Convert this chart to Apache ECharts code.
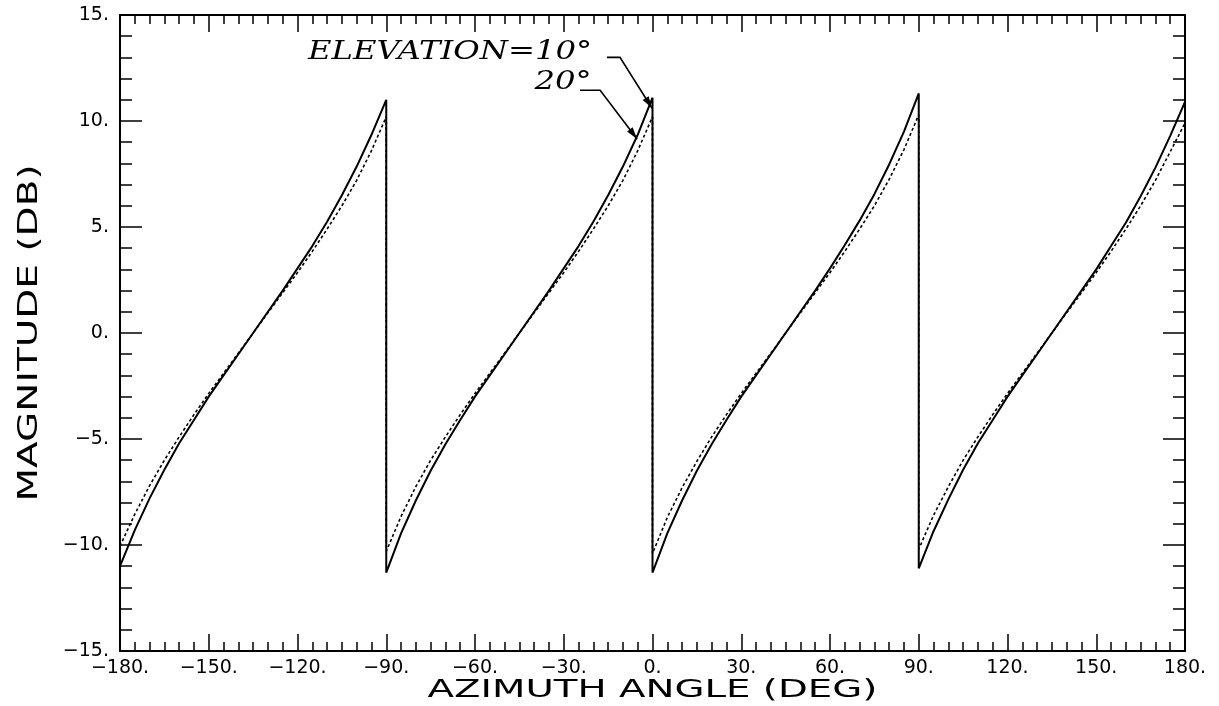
<!DOCTYPE html>
<html>
<head>
<meta charset="utf-8">
<script src="https://cdn.jsdelivr.net/npm/echarts@6/dist/echarts.min.js"></script>
<style>
  html, body { margin: 0; padding: 0; background: #fff; }
  #chart { width: 1219px; height: 706px; }
</style>
</head>
<body>
<div id="chart"></div>
<script>
// Azimuth sweep is drawn in four 90-degree segments, sampled every 5 degrees.
const segmentStart = [-180, -90, 0, 90];
const segmentOffsets = [0, 5, 10, 15, 20, 25, 30, 35, 40, 45, 50, 55, 60, 65, 70, 75, 80, 85, 90];

// Magnitude (dB), elevation = 10 deg (solid curve)
const elev10Seg1 = [-11.0, -9.3, -7.8, -6.45, -5.2, -4.1, -3.0, -2.0, -1.0, 0.0, 1.0, 2.0, 3.05, 4.1, 5.25, 6.5, 7.85, 9.35, 11.0];
const elev10Seg2 = [-11.3, -9.45, -7.9, -6.5, -5.25, -4.1, -3.0, -2.0, -1.0, 0.0, 1.0, 2.0, 3.05, 4.1, 5.25, 6.5, 7.85, 9.35, 11.1];
const elev10Seg3 = [-11.3, -9.45, -7.9, -6.5, -5.25, -4.1, -3.0, -2.0, -1.0, 0.0, 1.0, 2.0, 3.05, 4.15, 5.3, 6.55, 7.95, 9.5, 11.3];
const elev10Seg4 = [-11.1, -9.35, -7.85, -6.45, -5.2, -4.1, -3.0, -2.0, -1.0, 0.0, 1.0, 2.0, 3.0, 4.1, 5.2, 6.45, 7.8, 9.3, 10.9];
const elev10AtWrap = -11.0;

// Magnitude (dB), elevation = 20 deg (dotted curve)
const elev20Seg1 = [-10.05, -8.55, -7.2, -6.0, -4.9, -3.85, -2.85, -1.9, -0.95, 0.0, 0.95, 1.9, 2.85, 3.85, 4.9, 6.0, 7.2, 8.6, 10.2];
const elev20Seg2 = [-10.3, -8.65, -7.25, -6.0, -4.9, -3.85, -2.85, -1.9, -0.95, 0.0, 0.95, 1.9, 2.85, 3.85, 4.9, 6.0, 7.2, 8.6, 10.2];
const elev20Seg3 = [-10.4, -8.7, -7.3, -6.05, -4.9, -3.85, -2.85, -1.9, -0.95, 0.0, 0.95, 1.9, 2.85, 3.85, 4.9, 6.0, 7.25, 8.65, 10.3];
const elev20Seg4 = [-10.2, -8.6, -7.25, -6.0, -4.9, -3.85, -2.85, -1.9, -0.95, 0.0, 0.95, 1.9, 2.85, 3.85, 4.9, 6.0, 7.2, 8.55, 9.9];
const elev20AtWrap = -10.05;

// Leader lines for the curve labels: [azimuth, dB] for start, bend and arrow tip
const leader10 = [[-15.4, 13.0], [-11.0, 13.0], [-0.15, 10.6]];
const leader20 = [[-24.5, 11.45], [-17.7, 11.45], [-5.2, 9.15]];

function buildCurve(segments, wrapValue) {
  const pts = [];
  segments.forEach((vals, s) => {
    vals.forEach((v, i) => pts.push([segmentStart[s] + segmentOffsets[i], v]));
  });
  pts.push([180, wrapValue]);
  return pts;
}

const elev10Data = buildCurve([elev10Seg1, elev10Seg2, elev10Seg3, elev10Seg4], elev10AtWrap);
const elev20Data = buildCurve([elev20Seg1, elev20Seg2, elev20Seg3, elev20Seg4], elev20AtWrap);

const MINUS = '\u2212';
const fmt = v => (v < 0 ? MINUS : '') + Math.abs(v) + '.';
const labelFont = 'DejaVu Sans, Liberation Sans, sans-serif';

function xAxisCfg(pos, showLabels) {
  return {
    type: 'value', position: pos, min: -180, max: 180, interval: 30,
    axisLine: { show: true, onZero: false, lineStyle: { color: '#000', width: 2 } },
    axisTick: { show: true, inside: true, length: 17, lineStyle: { color: '#000', width: 1.5 } },
    minorTick: { show: true, splitNumber: 6, length: 9, lineStyle: { color: '#000', width: 1.5 } },
    splitLine: { show: false }, minorSplitLine: { show: false },
    axisLabel: { show: showLabels, formatter: fmt, color: '#000', fontSize: 19, fontFamily: labelFont, margin: 8, showMinLabel: true, showMaxLabel: true }
  };
}
function yAxisCfg(pos, showLabels) {
  return {
    type: 'value', position: pos, min: -15, max: 15, interval: 5,
    axisLine: { show: true, onZero: false, lineStyle: { color: '#000', width: 2 } },
    axisTick: { show: true, inside: true, length: 22, lineStyle: { color: '#000', width: 1.5 } },
    minorTick: { show: true, splitNumber: 5, length: 12, lineStyle: { color: '#000', width: 1.5 } },
    splitLine: { show: false }, minorSplitLine: { show: false },
    axisLabel: { show: showLabels, formatter: fmt, color: '#000', fontSize: 19, fontFamily: labelFont, margin: 11, showMinLabel: true, showMaxLabel: true }
  };
}

const chart = echarts.init(document.getElementById('chart'), null, { renderer: 'canvas' });
chart.setOption({
  animation: false,
  backgroundColor: '#fff',
  grid: { left: 120, right: 34, top: 15, bottom: 55 },
  xAxis: [xAxisCfg('bottom', true), xAxisCfg('top', false)],
  yAxis: [yAxisCfg('left', true), yAxisCfg('right', false)],
  series: [
    {
      name: 'ELEVATION=20°', type: 'line', data: elev20Data, showSymbol: false,
      lineStyle: { color: '#000', width: 1.6, type: [3, 2.5] }, z: 2
    },
    {
      name: 'ELEVATION=10°', type: 'line', data: elev10Data, showSymbol: false,
      lineStyle: { color: '#000', width: 2 }, z: 3
    }
  ]
});

// Axis titles and curve annotations
const px = p => chart.convertToPixel({ gridIndex: 0 }, p);

function leaderGraphics(pts) {
  const p = pts.map(px);
  const tip = p[p.length - 1], prev = p[p.length - 2];
  const dx = tip[0] - prev[0], dy = tip[1] - prev[1];
  const len = Math.hypot(dx, dy), ux = dx / len, uy = dy / len;
  const hl = 12, hw = 3.5;
  const bx = tip[0] - ux * hl, by = tip[1] - uy * hl;
  return [
    { type: 'polyline', shape: { points: p }, style: { stroke: '#000', lineWidth: 1.6, fill: null }, z: 10 },
    { type: 'polygon', shape: { points: [tip, [bx - uy * hw, by + ux * hw], [bx + uy * hw, by - ux * hw]] }, style: { fill: '#000' }, z: 10 }
  ];
}

const gridRect = { left: 120, right: 1219 - 34, top: 15, bottom: 706 - 55 };
// label anchors: right end, vertical middle of the capitals
const t10 = px([-20.4, 13.25]);
const t20 = px([-20.6, 11.85]);
const annoFont = 'italic 26px DejaVu Serif, Liberation Serif, serif';

chart.setOption({
  graphic: [
    {
      type: 'text', x: (gridRect.left + gridRect.right) / 2, y: 690, scaleX: 1.55,
      style: { text: 'AZIMUTH ANGLE (DEG)', font: '25px DejaVu Sans, sans-serif', fill: '#000', align: 'center', verticalAlign: 'middle' }
    },
    {
      type: 'text', x: 30, y: (gridRect.top + gridRect.bottom) / 2, rotation: Math.PI / 2, scaleX: 1.5,
      style: { text: 'MAGNITUDE (DB)', font: '26px DejaVu Sans, sans-serif', fill: '#000', align: 'center', verticalAlign: 'middle' }
    },
    {
      type: 'text', x: t10[0], y: t10[1], scaleX: 1.24,
      style: { text: 'ELEVATION=10°', font: annoFont, fill: '#000', align: 'right', verticalAlign: 'middle' }
    },
    {
      type: 'text', x: t20[0], y: t20[1], scaleX: 1.24,
      style: { text: '20°', font: annoFont, fill: '#000', align: 'right', verticalAlign: 'middle' }
    },
    ...leaderGraphics(leader10),
    ...leaderGraphics(leader20)
  ]
});
</script>
</body>
</html>
